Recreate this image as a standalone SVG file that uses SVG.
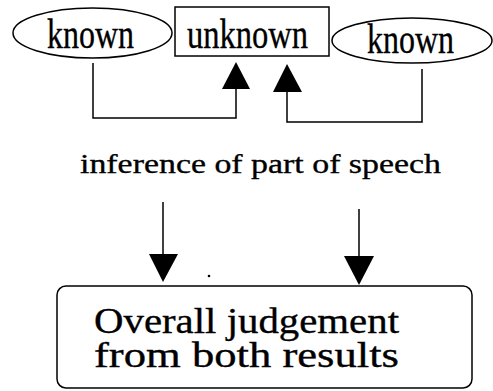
<svg xmlns="http://www.w3.org/2000/svg" width="493" height="391" viewBox="0 0 493 391">
<style>
.shape{fill:#fff;stroke:#000;stroke-width:1.5}
.line{fill:none;stroke:#000;stroke-width:1.5}
.head{fill:#000;stroke:none}
text{font-family:"Liberation Serif","Times New Roman",serif;fill:#000;stroke:#000;stroke-width:0.35}
.big{font-size:42px}
.mid{font-size:28px}
.box{font-size:36px}
</style>
<rect width="493" height="391" fill="#fff"/>
<g id="connectors">
<polyline class="line" points="93,63 93,118 236,118 236,88"/>
<polygon class="head" points="236,62 222,89 250,89"/>
<polyline class="line" points="422,69 422,122 287,122 287,91"/>
<polygon class="head" points="287,64 273,92 302,92"/>
<line class="line" x1="163" y1="202" x2="163" y2="255"/>
<polygon class="head" points="149,254 178,254 163,282"/>
<line class="line" x1="359" y1="209" x2="359" y2="257"/>
<polygon class="head" points="344,256 374,256 359,285"/>
</g>
<g id="known-left">
<ellipse class="shape" cx="92.5" cy="33" rx="79.5" ry="25"/>
<text class="big" x="47" y="48" textLength="87" lengthAdjust="spacingAndGlyphs">known</text>
</g>
<g id="unknown">
<rect class="shape" x="175" y="7" width="154" height="49"/>
<text class="big" x="187" y="48" textLength="121" lengthAdjust="spacingAndGlyphs">unknown</text>
</g>
<g id="known-right">
<ellipse class="shape" cx="412" cy="40.5" rx="80" ry="22.5"/>
<text class="big" x="367" y="53" textLength="87" lengthAdjust="spacingAndGlyphs">known</text>
</g>
<g id="inference-label">
<text class="mid" x="80" y="173" textLength="361" lengthAdjust="spacingAndGlyphs">inference of part of speech</text>
</g>
<circle cx="209" cy="276" r="1.3" fill="#000"/>
<g id="judgement">
<rect class="shape" x="57" y="286" width="415" height="102" rx="9" ry="9"/>
<text class="box"><tspan x="94" y="333" textLength="305" lengthAdjust="spacingAndGlyphs">Overall judgement</tspan><tspan x="94" y="367" textLength="305" lengthAdjust="spacingAndGlyphs">from both results</tspan></text>
</g>
</svg>
